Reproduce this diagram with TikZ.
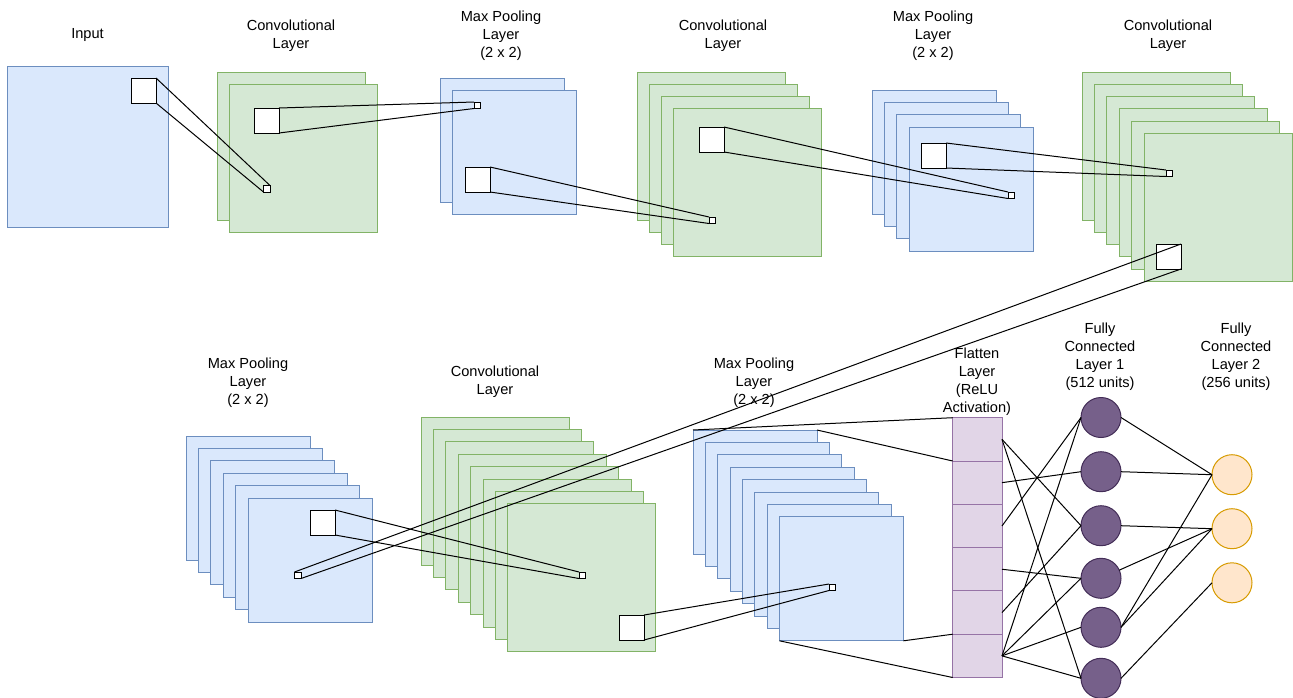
\documentclass[tikz,border=0pt]{standalone}
\usepackage{fontspec}
\setmainfont{Liberation Sans}
\definecolor{bluefill}{HTML}{DAE8FC}
\definecolor{blueline}{HTML}{6C8EBF}
\definecolor{greenfill}{HTML}{D5E8D4}
\definecolor{greenline}{HTML}{82B366}
\definecolor{lilacfill}{HTML}{E1D5E7}
\definecolor{lilacline}{HTML}{9673A6}
\definecolor{plumfill}{HTML}{76608A}
\definecolor{plumline}{HTML}{432D57}
\definecolor{peachfill}{HTML}{FFE6CC}
\definecolor{peachline}{HTML}{D79B00}
\tikzset{
  fmap/.style={draw, line width=1pt, inner sep=0pt, outer sep=0pt, anchor=north west, minimum size=#1},
  bluemap/.style={fmap=#1, fill=bluefill, draw=blueline},
  greenmap/.style={fmap=#1, fill=greenfill, draw=greenline},
  win/.style={draw=black, fill=white, line width=1pt, inner sep=0pt, outer sep=0pt, anchor=north west, minimum size=25pt},
  tinywin/.style={win, minimum size=6.5pt},
  cell/.style={draw=lilacline, fill=lilacfill, line width=1pt, inner sep=0pt, outer sep=0pt, anchor=north west, minimum width=49.3pt, minimum height=43.3pt},
  unit/.style={circle, line width=1pt, inner sep=0pt, outer sep=0pt, minimum size=40pt},
  hidden/.style={unit, fill=plumfill, draw=plumline},
  outunit/.style={unit, fill=peachfill, draw=peachline},
  link/.style={draw=black, line width=1pt},
  lbl/.style={align=center, font=\fontsize{14.6}{18}\selectfont, inner sep=0pt}
}
\begin{document}
\begin{tikzpicture}[x=1pt, y=-1pt]
\useasboundingbox (0,0) rectangle (1293,697);

% ---------- feature maps, top row ----------
\node[bluemap=161] (in) at (7,66) {};
\foreach \k in {0,1}
  \node[greenmap=148] (c1-\k) at ({217+12*\k},{72+12*\k}) {};
\foreach \k in {0,1}
  \node[bluemap=124] (p1-\k) at ({440+12*\k},{78+12*\k}) {};
\foreach \k in {0,...,3}
  \node[greenmap=148] (c2-\k) at ({637+12.3*\k},{72+12.2*\k}) {};
\foreach \k in {0,...,3}
  \node[bluemap=124] (p2-\k) at ({872+12.4*\k},{90+12.4*\k}) {};
\foreach \k in {0,...,5}
  \node[greenmap=148] (c3-\k) at ({1082+12.4*\k},{72+12.3*\k}) {};

% ---------- feature maps, bottom row ----------
\foreach \k in {0,...,5}
  \node[bluemap=124] (p3-\k) at ({186+12.4*\k},{436+12.4*\k}) {};
\foreach \k in {0,...,7}
  \node[greenmap=148] (c4-\k) at ({421+12.4*\k},{417+12.4*\k}) {};
\foreach \k in {0,...,7}
  \node[bluemap=124] (p4-\k) at ({693+12.35*\k},{430+12.4*\k}) {};

% ---------- flatten column ----------
\foreach \i in {1,...,6}
  \node[cell] (f\i) at (952.7,{417.7+43.3*(\i-1)}) {};

% ---------- dense layers ----------
\foreach \i/\y in {1/417.5, 2/471.7, 3/525.7, 4/578.3, 5/627.3, 6/678.3}
  \node[hidden] (h\i) at (1101,\y) {};
\foreach \i/\y in {1/474.7, 2/528.7, 3/582.8}
  \node[outunit] (o\i) at (1232,\y) {};

% ---------- receptive-field windows ----------
\node[win] (s0) at (131,78) {};
\node[win] (s1) at (254,108) {};
\node[win] (s2) at (465,167) {};
\node[win] (s3) at (699,127) {};
\node[win] (s4) at (921,143) {};
\node[win] (s5) at (1156,244) {};
\node[win] (s6) at (310,510) {};
\node[win] (s7) at (619,615) {};

\node[tinywin] (t1) at (263.5,185.5) {};
\node[tinywin] (t2) at (474,102) {};
\node[tinywin] (t3) at (709,217) {};
\node[tinywin] (t4) at (1008,192) {};
\node[tinywin] (t5) at (1166,170) {};
\node[tinywin] (t6) at (294.5,572) {};
\node[tinywin] (t7) at (579,572) {};
\node[tinywin] (t8) at (829,584) {};

% ---------- labels ----------
\node[lbl] (lin) at (87.5,34.6) {Input};
\node[lbl] (lc1) at (291,35.9) {Convolutional\\Layer};
\node[lbl] (lp1) at (501,35.9) {Max Pooling\\Layer\\(2 x 2)};
\node[lbl] (lc2) at (723,35.9) {Convolutional\\Layer};
\node[lbl] (lp2) at (933,35.9) {Max Pooling\\Layer\\(2 x 2)};
\node[lbl] (lc3) at (1168,35.9) {Convolutional\\Layer};
\node[lbl] (lp3) at (248,382.5) {Max Pooling\\Layer\\(2 x 2)};
\node[lbl] (lc4) at (495,381.9) {Convolutional\\Layer};
\node[lbl] (lp4) at (754,382.5) {Max Pooling\\Layer\\(2 x 2)};
\node[lbl] (lf) at (977,381.5) {Flatten\\Layer\\(ReLU\\Activation)};
\node[lbl] (lh) at (1100,357.2) {Fully\\Connected\\Layer 1\\(512 units)};
\node[lbl] (lo) at (1236,357.2) {Fully\\Connected\\Layer 2\\(256 units)};

% ---------- window projections ----------
\draw[link] (s0.north east) -- (t1.north east);
\draw[link] (s0.south east) -- (t1.south west);
\draw[link] (s1.north east) -- (t2.north west);
\draw[link] (s1.south east) -- (t2.south west);
\draw[link] (s2.north east) -- (t3.north west);
\draw[link] (s2.south east) -- (t3.south west);
\draw[link] (s3.north east) -- (t4.north west);
\draw[link] (s3.south east) -- (t4.south west);
\draw[link] (s4.north east) -- (t5.north west);
\draw[link] (s4.south east) -- (t5.south west);
\draw[link] (s5.north east) -- (t6.north west);
\draw[link] (s5.south east) -- (t6.south east);
\draw[link] (s6.north east) -- (t7.north west);
\draw[link] (s6.south east) -- (t7.south west);
\draw[link] (s7.north east) -- (t8.north west);
\draw[link] (s7.south east) -- (t8.south west);

% ---------- pooling stack to flatten ----------
\draw[link] (p4-0.north west) -- (f1.north west);
\draw[link] (p4-0.north east) -- (f1.south west);
\draw[link] (p4-7.south east) -- (f6.north west);
\draw[link] (p4-7.south west) -- (f6.south west);

% ---------- flatten to dense layer 1 ----------
\foreach \a/\b in {1/3, 1/6, 2/2, 3/1, 4/4, 5/3, 6/1, 6/4, 6/5, 6/6}
  \draw[link] (f\a.east) -- (h\b.west);

% ---------- dense layer 1 to dense layer 2 ----------
\foreach \a/\b in {1/1, 2/1, 3/2, 5/1, 5/2, 6/3}
  \draw[link] (h\a.east) -- (o\b.west);
\draw[link] (h4) -- (o2.west);
\end{tikzpicture}
\end{document}
